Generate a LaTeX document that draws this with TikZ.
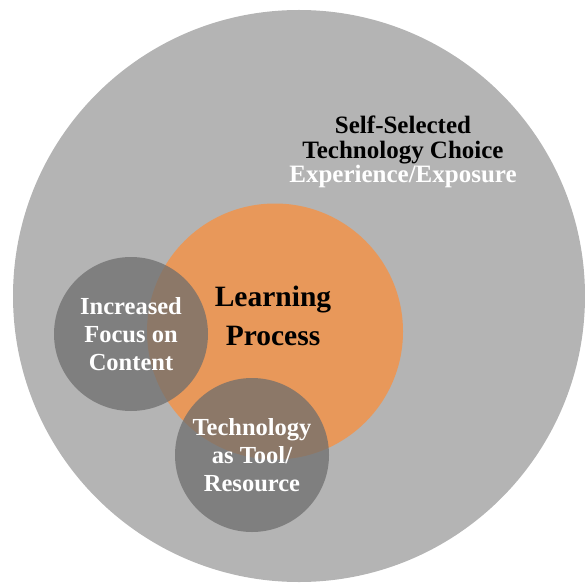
\documentclass[tikz,border=0pt]{standalone}
\usepackage{fontspec}
\setmainfont{Liberation Serif}
\usetikzlibrary{positioning}

\definecolor{outergray}{RGB}{180,180,180}
\definecolor{learnorange}{RGB}{232,152,90}
\definecolor{focusgray}{RGB}{110,110,110}

\begin{document}
\begin{tikzpicture}[x=1pt, y=-1pt,
                    every node/.append style={align=center},
                    ring/.style={circle, inner sep=0pt, minimum size=#1},
                    small/.style={ring=154pt, fill=focusgray, fill opacity=0.75,
                                  text opacity=1, text=white,
                                  font=\fontsize{24.5}{28}\selectfont\bfseries}]
                   \useasboundingbox (0,0) rectangle (584,585);

                   \node [ring=572pt, fill=outergray] (choice) at (299,296) {};
                   \node [ring=256pt, fill=learnorange] (learn) at (275,331.5) {};

                   \node [small] (focus) at (131,334) {Increased\\Focus on\\Content};
                   \node [small] (tool)  at (252,455) {Technology\\as Tool/\\Resource};

                   \node [font=\fontsize{29.5}{39}\selectfont\bfseries] (learntext) at (273,316) {Learning\\Process};
                   \node [font=\fontsize{25}{25.5}\selectfont\bfseries] (choicetext) at (403,140) {Self-Selected\\Technology Choice};
                   \node [below=-6pt of choicetext, text=white,
                          font=\fontsize{25}{25.5}\selectfont\bfseries] (exposure) {Experience/Exposure};
                \end{tikzpicture}
\end{document}
